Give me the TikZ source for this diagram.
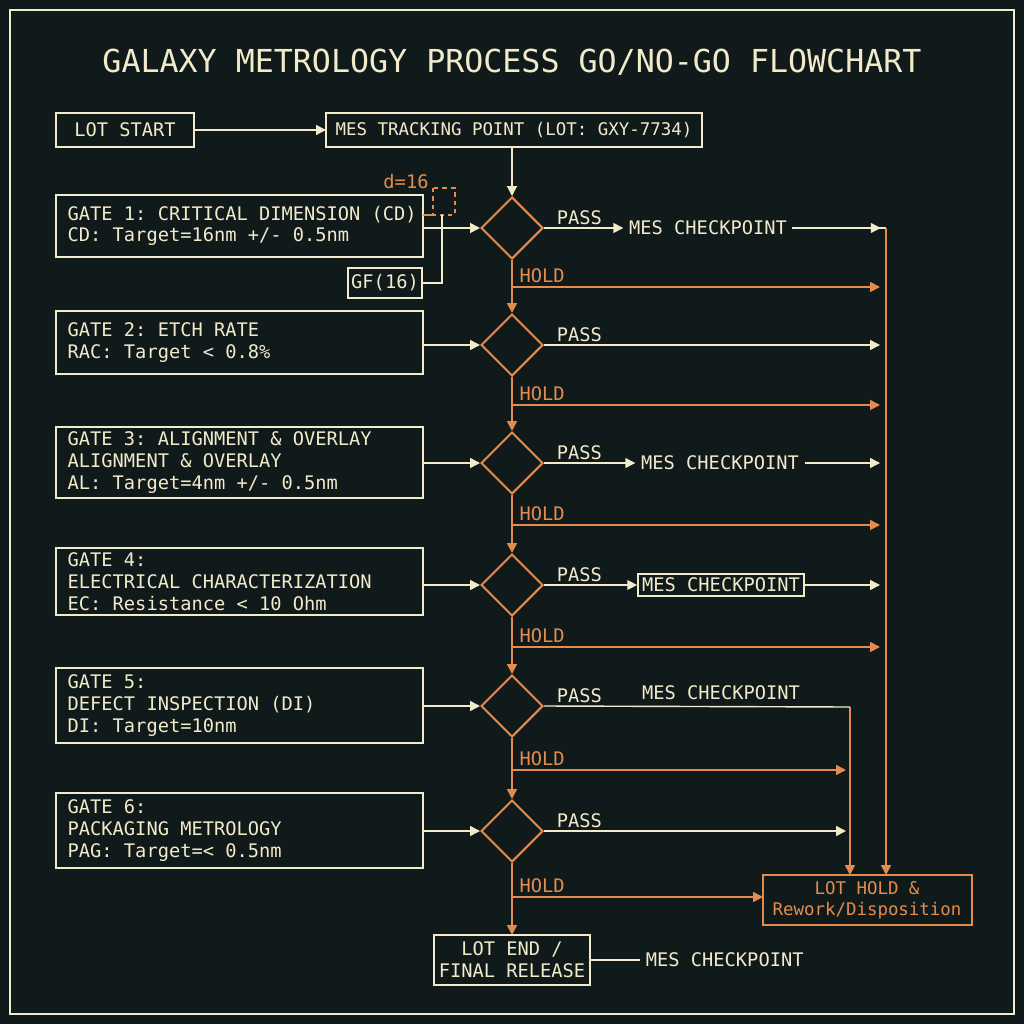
\documentclass[tikz,border=0pt]{standalone}
\usepackage{fontspec}
\setmonofont{DejaVu Sans Mono}
\usetikzlibrary{arrows.meta,shapes.geometric}
\definecolor{bg}{HTML}{111A1A}
\definecolor{cr}{HTML}{F2EBCB}
\definecolor{og}{HTML}{E38C4E}
\begin{document}
\begin{tikzpicture}[x=0.025cm,y=-0.025cm,font=\ttfamily\fontsize{13.3}{15.5}\selectfont,
 dia/.style={draw=og,line width=1.4pt,diamond,inner sep=0pt,minimum size=1.55cm},
 ca/.style={draw=cr,line width=1pt,-{Triangle[length=7pt,width=7pt]}},
 oa/.style={draw=og,line width=1.2pt,-{Triangle[length=7pt,width=7pt]}},
 lab/.style={text=cr,inner sep=1pt},
 mes/.style={text=cr,inner sep=4pt},
 olab/.style={text=og,inner sep=1pt},
 small/.style={font=\ttfamily\fontsize{12.4}{15}\selectfont}]
\fill[bg] (0,0) rectangle (1024,1024);
\useasboundingbox (0,0) rectangle (1024,1024);
\draw[cr,line width=1pt] (10,10) rectangle (1014,1014);
\node[text=cr,font=\ttfamily\fontsize{22.5}{26}\selectfont] (title) at (512,62) {GALAXY METROLOGY PROCESS GO/NO-GO FLOWCHART};
% top boxes
\draw[cr,line width=1.2pt] (56,113) rectangle (194,147); \node[lab] (ls) at (125,130) {LOT START};
\coordinate (lsr) at (194,130);
\draw[cr,line width=1.2pt] (326,113) rectangle (702,147); \node[lab,small] (mt) at (514,130) {MES TRACKING POINT (LOT: GXY-7734)};
\coordinate (mtl) at (326,130); \coordinate (mtb) at (512,147);
\draw[ca] (lsr) -- (mtl);
% diamonds
\foreach \i/\y in {1/228,2/345,3/463,4/585,5/706,6/831}{
 \node[dia] (d\i) at (512,\y) {};
}
\draw[ca] (mtb) -- (d1.north);
\foreach \a/\b in {1/2,2/3,3/4,4/5,5/6}{\draw[oa] (d\a.south) -- (d\b.north);}
% gate boxes
\foreach \i/\t/\b/\txt in {
 1/195/257/{GATE 1: CRITICAL DIMENSION (CD)\\CD: Target=16nm +/- 0.5nm},
 2/311/374/{GATE 2: ETCH RATE\\RAC: Target < 0.8\%},
 3/427/498/{GATE 3: ALIGNMENT \& OVERLAY\\ALIGNMENT \& OVERLAY\\AL: Target=4nm +/- 0.5nm},
 4/548/615/{GATE 4:\\ELECTRICAL CHARACTERIZATION\\EC: Resistance < 10 Ohm},
 5/668/743/{GATE 5:\\DEFECT INSPECTION (DI)\\DI: Target=10nm},
 6/793/868/{GATE 6:\\PACKAGING METROLOGY\\PAG: Target=< 0.5nm}}{
 \draw[cr,line width=1.2pt] (56,\t) rectangle (423,\b);
 \node[lab,align=left,anchor=west] (g\i) at (66,{(\t+\b)/2}) {\txt};
 \coordinate (gr\i) at (423,{(\t+\b)/2});
}
\foreach \i in {2,...,6}{\draw[ca] (gr\i |- d\i) -- (d\i.west);}
\coordinate (g1r) at (423,228);
\draw[ca] (g1r) -- (d1.west);
% GF and d=16
\draw[cr,line width=1.2pt] (348,268) rectangle (422,298); \node[lab] (gf) at (385,283) {GF(16)};
\draw[og,line width=1.2pt,dashed] (433,188) rectangle (455,215);
\node[olab] (dl) at (406,182) {d=16};
\coordinate (sq) at (433,215); \coordinate (g1o) at (423,215);
\draw[og,line width=1.2pt] (g1o) -- (sq);
\coordinate (gfr) at (422,283); \coordinate (k1) at (442,283); \coordinate (k2) at (442,215);
\draw[cr,line width=1pt] (gfr) -- (k1) -- (k2);
% right collectors
\coordinate (R1) at (886,228); \coordinate (R2) at (850,707);
\draw[cr,line width=1pt] (792,228) -- (R1);
% LOT HOLD box
\draw[og,line width=1.2pt] (763,875) rectangle (972,925);
\node[olab,align=center,small] (lh) at (867,900) {LOT HOLD \&\\Rework/Disposition};
\coordinate (lht1) at (886,875); \coordinate (lht2) at (850,875); \coordinate (lhl) at (763,897);
\draw[oa] (R1) -- (lht1);
\draw[oa] (R2) -- (lht2);
% PASS
\foreach \i in {1,...,6}{\node[lab,anchor=south west] (p\i) at ([xshift=8pt,yshift=1pt]d\i.east) {PASS};}
\node[mes] (m1) at (708,228) {MES CHECKPOINT};
\draw[ca] (d1.east) -- (m1.west);
\draw[ca] (m1.east) -- ++(88,0);
\coordinate (e2) at (880,345); \draw[ca] (d2.east) -- (e2);
\node[mes] (m3) at (720,463) {MES CHECKPOINT};
\draw[ca] (d3.east) -- (m3.west);
\coordinate (e3) at (880,463); \draw[ca] (m3.east) -- (e3);
\node[draw=cr,line width=1.2pt,text=cr,inner sep=3pt] (m4) at (721,585) {MES CHECKPOINT};
\draw[ca] (d4.east) -- (m4.west);
\coordinate (e4) at (880,585); \draw[ca] (m4.east) -- (e4);
\node[lab] (m5) at (721,693) {MES CHECKPOINT};
\draw[cr,line width=1pt] (d5.east) -- (R2);
\coordinate (e6) at (846,831); \draw[ca] (d6.east) -- (e6);
% HOLD
\foreach \i/\y/\xe in {1/287/880,2/405/880,3/525/880,4/647/880,5/770/846}{
 \coordinate (h\i) at (512,\y); \coordinate (he\i) at (\xe,\y);
 \draw[oa] (h\i) -- (he\i);
 \node[olab,anchor=south west] (hl\i) at (518,\y-3) {HOLD};
}
\coordinate (h6) at (512,897);
\draw[oa] (h6) -- (lhl);
\node[olab,anchor=south west] (hl6) at (518,894) {HOLD};
% LOT END
\draw[cr,line width=1.2pt] (434,935) rectangle (590,985);
\node[lab,align=center] (le) at (512,960) {LOT END /\\FINAL RELEASE};
\coordinate (let) at (512,935);
\draw[oa] (d6.south) -- (let);
\node[mes,anchor=west] (m6) at (640,960) {MES CHECKPOINT};
\coordinate (ler) at (590,960);
\draw[cr,line width=1pt] (ler) -- (m6.west);
\end{tikzpicture}
\end{document}
